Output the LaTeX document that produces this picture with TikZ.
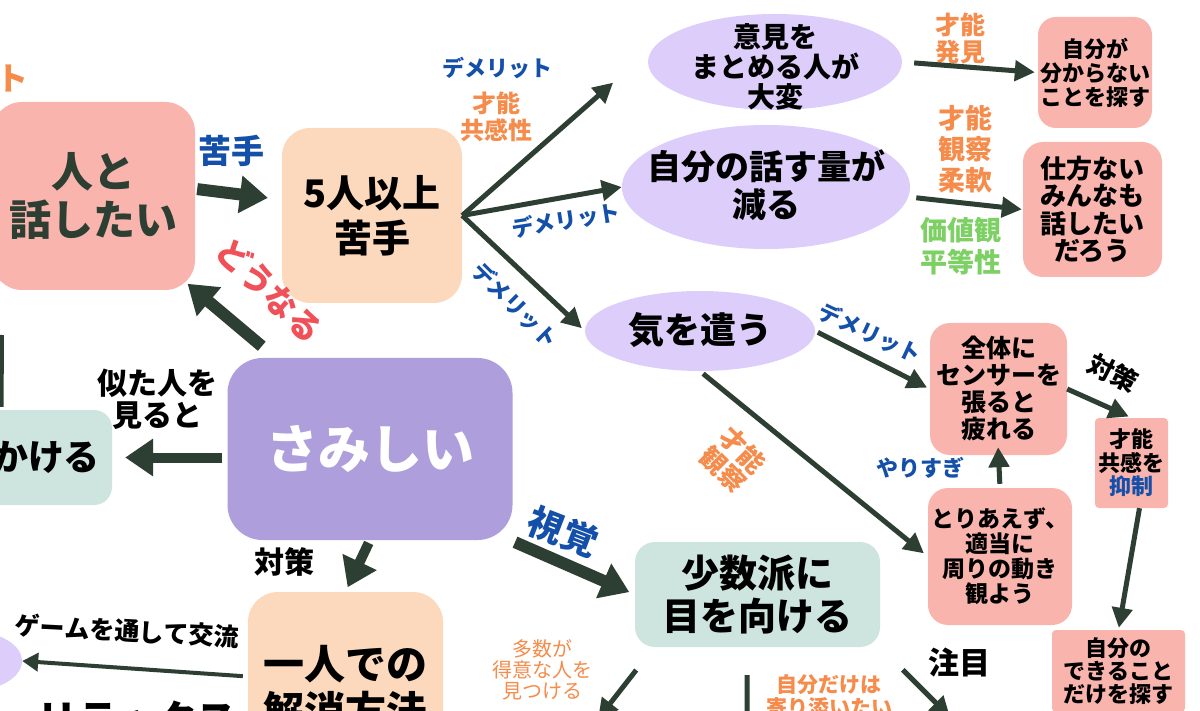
\documentclass[tikz,border=0pt]{standalone}
\usepackage{fontspec}
\setmainfont{Noto Sans CJK JP}
\usetikzlibrary{arrows.meta,shapes.geometric}
\definecolor{pinkbox}{RGB}{249,181,173}
\definecolor{peachbox}{RGB}{252,217,188}
\definecolor{mainpurple}{RGB}{175,158,220}
\definecolor{lavender}{RGB}{221,205,250}
\definecolor{mintbox}{RGB}{205,229,222}
\definecolor{darkline}{RGB}{45,62,50}
\definecolor{labelblue}{RGB}{20,80,170}
\definecolor{labelorange}{RGB}{245,140,75}
\definecolor{labelred}{RGB}{240,80,88}
\definecolor{labelgreen}{RGB}{125,208,100}
\newcommand{\jfont}[2]{\bfseries\fontsize{#1}{#2}\selectfont}
\begin{document}
\begin{tikzpicture}[x=1pt, y=-1pt,
    box/.style={rounded corners=#1, inner sep=0pt, align=center},
    box/.default=20pt,
    oval/.style={ellipse, fill=lavender, inner sep=0pt},
    lbl/.style={inner sep=0pt, align=center},
    bigarrow/.style={draw=darkline, line width=12pt, -{Triangle[length=28pt,width=36pt]}},
    arrowline/.style={draw=darkline, line width=5pt, -{Triangle[length=20pt,width=20pt]}},
    plainline/.style={draw=darkline, line width=5pt}]
    \fill[white] (0,0) rectangle (1200,711);
    \useasboundingbox (0,0) rectangle (1200,711);
    \clip (0,0) rectangle (1200,711);
    \node[box=30pt, fill=pinkbox, minimum width=203pt, minimum height=188pt, text=darkline, font=\jfont{42}{48}] (hito) at (93.5,196) {人と\\話したい};
    \node[box=28pt, fill=peachbox, minimum width=180pt, minimum height=175pt, font=\jfont{38}{45}] (five) at (372,215.5) {5人以上\\苦手};
    \node[box=35pt, fill=mainpurple, minimum width=285pt, minimum height=182pt, text=white, font=\jfont{52}{60}] (samishi) at (370,449) {さみしい};
    \node[box=18pt, fill=mintbox, minimum width=132pt, minimum height=95pt, font=\jfont{36}{40}] (kakeru) at (46,457.5) {かける};
    \node[box=30pt, fill=peachbox, minimum width=195pt, minimum height=193pt, font=\jfont{41}{47}] (hitori) at (345.5,688.5) {一人での\\解消方法};
    \node[box, fill=mintbox, minimum width=245pt, minimum height=105pt, font=\jfont{38}{43}] (shosu) at (757.5,594.5) {少数派に\\目を向ける};
    \node[oval, minimum width=254pt, minimum height=96pt] (iken) at (775,62) {};
    \node[lbl, font=\jfont{28}{30}] (iken-t) at (775,67) {意見を\\まとめる人が\\大変};
    \node[oval, minimum width=288pt, minimum height=124pt] (jibun) at (766,187) {};
    \node[lbl, font=\jfont{34}{38}] (jibun-t) at (766,185) {自分の話す量が\\減る};
    \node[oval, minimum width=230pt, minimum height=80pt] (ki) at (700,331) {};
    \node[lbl, font=\jfont{36}{40}] (ki-t) at (700,330) {気を遣う};
    \node[oval, minimum width=104pt, minimum height=60pt] (koryu) at (-30,661) {};
    \node[box=18pt, fill=pinkbox, minimum width=114pt, minimum height=111pt, font=\jfont{22}{24}] (sagasu) at (1095,72.5) {自分が\\分からない\\ことを探す};
    \node[box, fill=pinkbox, minimum width=139pt, minimum height=135pt, font=\jfont{26}{27.5}] (shikata) at (1092.5,209.5) {仕方ない\\みんなも\\話したい\\だろう};
    \node[box, fill=pinkbox, minimum width=137pt, minimum height=132pt, font=\jfont{25}{27}] (sensa) at (998.5,389) {全体に\\センサーを\\張ると\\疲れる};
    \node[box, fill=pinkbox, minimum width=144pt, minimum height=137pt, font=\jfont{23}{25}] (toriaezu) at (1000,556.5) {とりあえず、\\適当に\\周りの動き\\観よう};
    \node[box=4pt, fill=pinkbox, minimum width=73pt, minimum height=90pt, font=\jfont{22}{23.5}] (yokusei) at (1131.5,463) {才能\\共感を\\\textcolor{labelblue}{抑制}};
    \node[box=4pt, fill=pinkbox, minimum width=133pt, minimum height=82pt, font=\jfont{22}{23}] (dekiru) at (1118.5,671) {自分の\\できること\\だけを探す};
    \node[lbl, text=labelorange, font=\jfont{32}{32}, anchor=east] (to-l) at (29,79) {ト};
    \node[lbl, text=labelblue, font=\jfont{33}{33}] (nigate) at (231,151) {苦手};
    \node[lbl, text=labelred, font=\jfont{33}{33}, rotate=-44] (dounaru) at (270,290) {どうなる};
    \node[lbl, font=\jfont{30}{32}] (nita) at (157,399) {似た人を\\見ると};
    \node[lbl, font=\jfont{30}{30}] (taisaku1) at (284,562) {対策};
    \node[lbl, font=\jfont{25}{25}, rotate=-3] (game) at (127,631) {ゲームを通して交流};
    \node[lbl, font=\jfont{40}{40}] (relax) at (137,720) {リラックス};
    \node[lbl, text=labelblue, font=\jfont{22}{22}] (demerit1) at (497,68) {デメリット};
    \node[lbl, text=labelorange, font=\jfont{24}{27}] (sainou1) at (496,117) {才能\\共感性};
    \node[lbl, text=labelblue, font=\jfont{22}{22}, rotate=9] (demerit2) at (566,220) {デメリット};
    \node[lbl, text=labelblue, font=\jfont{22}{22}, rotate=-45] (demerit3) at (515,305) {デメリット};
    \node[lbl, text=labelorange, font=\jfont{25}{27}] (sainou2) at (960,38) {才能\\発見};
    \node[lbl, text=labelorange, font=\jfont{27}{31}] (sainou3) at (965,149) {才能\\観察\\柔軟};
    \node[lbl, text=labelgreen, font=\jfont{27}{32}] (kachikan) at (961,246) {価値観\\平等性};
    \node[lbl, text=labelblue, font=\jfont{22}{22}, rotate=-25] (demerit4) at (870,333) {デメリット};
    \node[lbl, text=labelorange, font=\jfont{26}{28}, rotate=-45] (sainou4) at (733,460) {才能\\観察};
    \node[lbl, text=labelblue, font=\jfont{22}{22}] (yarisugi) at (920,468) {やりすぎ};
    \node[lbl, font=\jfont{26}{26}, rotate=-27] (taisaku2) at (1113,373) {対策};
    \node[lbl, text=labelblue, font=\jfont{36}{36}, rotate=-21] (shikaku) at (563,532) {視覚};
    \node[lbl, text=labelorange, font=\fontsize{20}{21}\selectfont] (tasuu) at (542,670) {多数が\\得意な人を\\見つける};
    \node[lbl, text=labelorange, font=\jfont{21}{23}] (yorisoi) at (829,696) {自分だけは\\寄り添いたい};
    \node[lbl, font=\jfont{31}{31}] (chumoku) at (959,663) {注目};
    \coordinate (tasuend) at (598,719);
    \coordinate (yoriend) at (747,720);
    \coordinate (chumokuend) at (950,717);
    \coordinate (leftup) at (2,335);
    \draw[bigarrow, shorten <=2pt, shorten >=14pt] (hito.4) -- (five.170);
    \draw[bigarrow, shorten <=18pt, shorten >=-10pt] (samishi.136) -- (hito.south east);
    \draw[bigarrow, line width=10pt, shorten <=5pt, shorten >=13pt] (samishi.west |- kakeru.east) -- (kakeru.east);
    \draw[bigarrow, line width=10pt, shorten <=3pt, shorten >=5pt] (samishi.south) -- (hitori.north);
    \draw[bigarrow, shorten <=5pt, shorten >=6pt] (samishi.-33) -- (shosu.west);
    \draw[arrowline, shorten >=62pt] (five.east) -- (iken.170);
    \draw[arrowline] (five.east) -- (jibun.west);
    \draw[arrowline, shorten >=4pt] (five.east) -- (ki.west);
    \draw[arrowline, shorten <=12pt, shorten >=3pt] (iken.east) -- (sagasu.west);
    \draw[arrowline, shorten <=8pt, shorten >=1pt] (jibun.-4) -- (shikata.west);
    \draw[arrowline, shorten <=3pt, shorten >=3pt] (ki.east) -- (sensa.west);
    \draw[arrowline, shorten <=4pt, shorten >=5pt] (ki.south) -- (toriaezu.west);
    \draw[arrowline, shorten <=4pt, shorten >=-8pt] (toriaezu.north) -- (sensa.south);
    \draw[arrowline, shorten >=3pt] (sensa.east) -- (yokusei.north);
    \draw[arrowline, shorten >=2pt] (yokusei.-80) -- (dekiru.north);
    \draw[draw=darkline, line width=4pt, -{Triangle[length=16pt,width=18pt]}, shorten <=5pt] (hitori.173) -- (koryu.east);
    \draw[arrowline, shorten <=29pt] (shosu.-153) -- (tasuend);
    \draw[plainline, shorten <=28pt] (shosu.-101) -- (yoriend);
    \draw[arrowline, shorten <=32pt] (shosu.south east) -- (chumokuend);
    \draw[plainline, line width=4pt, shorten <=3pt] (kakeru.133) -- (leftup);
\end{tikzpicture}
\end{document}
